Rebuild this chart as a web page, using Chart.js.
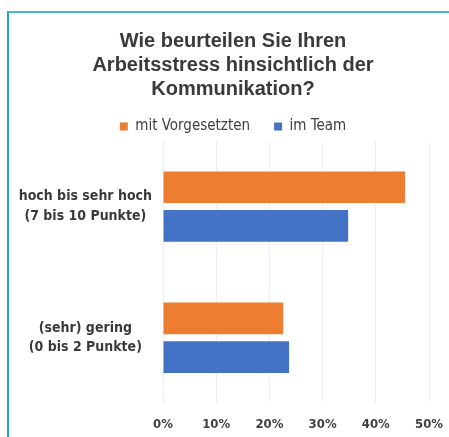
<!DOCTYPE html>
<html>
<head>
<meta charset="utf-8">
<script src="https://cdn.jsdelivr.net/npm/chart.js@4"></script>
<style>
    body { margin: 0; background: #fff; overflow: hidden; }
    #frame {
        position: absolute; left: 7px; top: 11px;
        width: 442px; height: 426px;
        border-top: 2px solid #45b9c1;
        border-left: 2px solid #1fa9b3;
    }
    #chart-box { position: absolute; left: 0; top: 0; width: 440px; height: 424px; }
</style>
</head>
<body>
<div id="frame"><div id="chart-box"><canvas id="stress-chart"></canvas></div></div>
<script>
// Data
const categories = [['hoch bis sehr hoch', '(7 bis 10 Punkte)'], ['(sehr) gering', '(0 bis 2 Punkte)']];
const mitVorgesetzten = [45.5, 22.6];
const imTeam = [34.8, 23.7];
const titleLines = ['Wie beurteilen Sie Ihren', 'Arbeitsstress hinsichtlich der', 'Kommunikation?'];

const condensed = "'Liberation Sans Narrow', 'DejaVu Sans Condensed', Arial, sans-serif";

// Trim a few pixels off the bottom of the legend box so the bars sit closer to it
const legendTrim = {
    id: 'legendTrim',
    beforeUpdate(chart) {
        const legend = chart.legend;
        if (legend && !legend._trimmed) {
            const fit = legend.fit;
            legend.fit = function () {
                fit.call(this);
                this.height -= 3;
            };
            legend._trimmed = true;
        }
    }
};

new Chart(document.getElementById('stress-chart').getContext('2d'), {
    type: 'bar',
    data: {
        labels: categories,
        datasets: [{
            label: 'mit Vorgesetzten',
            data: mitVorgesetzten,
            backgroundColor: '#ed7d31',
            borderWidth: 0
        },
        {
            label: 'im Team',
            data: imTeam,
            backgroundColor: '#4472c4',
            borderWidth: 0
        }]
    },
    plugins: [legendTrim],
    options: {
        indexAxis: 'y',
        responsive: true,
        maintainAspectRatio: false,
        animation: false,
        categoryPercentage: 0.59,
        barPercentage: 0.82,
        layout: {
            padding: { top: 14, right: 0, bottom: -8, left: 8 }
        },
        plugins: {
            title: {
                display: true,
                text: titleLines,
                color: '#3a3a3a',
                font: { family: 'Arial, Liberation Sans, sans-serif', size: 20, weight: 'bold', lineHeight: 1.2 },
                padding: { top: 2, bottom: -6 }
            },
            legend: {
                labels: {
                    boxWidth: 8,
                    boxHeight: 8,
                    padding: 24,
                    color: '#404040',
                    font: { family: condensed, size: 15 }
                }
            },
            tooltip: { enabled: false }
        },
        scales: {
            x: {
                min: 0,
                max: 50,
                afterFit: function (scale) { scale.paddingRight = 20; },
                ticks: {
                    stepSize: 10,
                    padding: 13,
                    color: '#404040',
                    font: { family: condensed, size: 13, weight: 'bold' },
                    callback: function (value) { return value + '%'; }
                },
                grid: { color: '#eeeeee', drawTicks: false },
                border: { display: false }
            },
            y: {
                afterFit: function (scale) { scale.width = 146; },
                ticks: {
                    crossAlign: 'center',
                    color: '#3a3a3a',
                    font: { family: condensed, size: 14, weight: 'bold', lineHeight: 1.4 }
                },
                grid: { display: false },
                border: { display: false }
            }
        }
    }
});
</script>
</body>
</html>
